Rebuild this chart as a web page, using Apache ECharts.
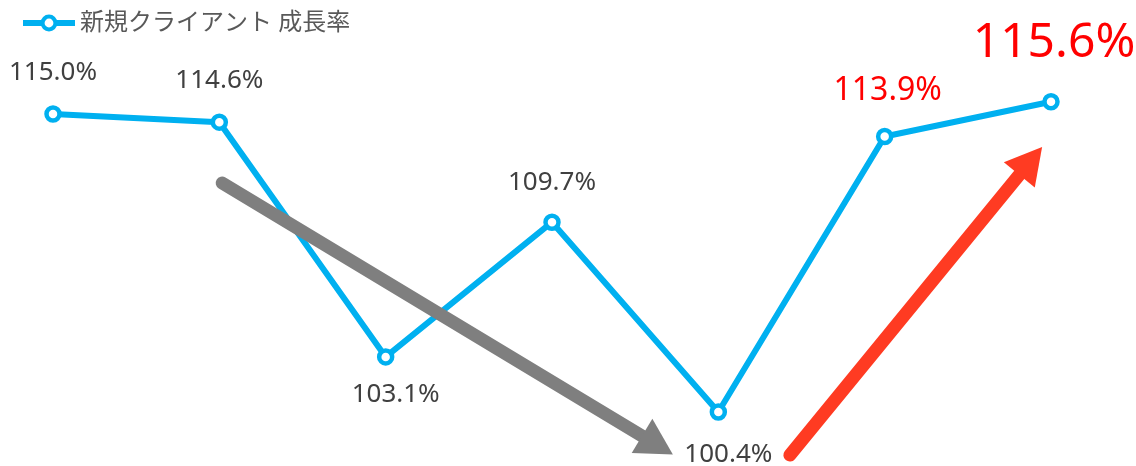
<!DOCTYPE html>
<html><head><meta charset="utf-8">
<script src="https://cdn.jsdelivr.net/npm/echarts@6/dist/echarts.min.js"></script>
<style>html,body{margin:0;padding:0;background:#fff}#c{width:1136px;height:466px}</style>
</head><body><div id="c"></div>
<script>
const categories = ['1','2','3','4','5','6','7'];
const seriesName = '新規クライアント 成長率';
const growth = [115.0, 114.6, 103.1, 109.7, 100.4, 113.9, 115.6];
const labelPos = ['top','top','bottom','top','bottom','top','top'];
// arrows: [startIndex, startValue] -> [endIndex, endValue]
const greyArrow = [[1.017, 111.62], [3.634, 98.77]];
const redArrow = [[4.43, 98.29], [5.878, 112.70]];

const chart = echarts.init(document.getElementById('c'));
const font = '"Noto Sans", "Noto Sans CJK JP", sans-serif';
const labelDist = [20, 20, 16, 18, 21, 21, 26];
const data = growth.map((v, i) => {
  const d = { value: v, label: { position: labelPos[i], distance: labelDist[i] } };
  if (labelPos[i] === 'bottom') d.label.offset = [10, 0];
  if (i === 5) { d.label.color = '#ff0000'; d.label.fontSize = 32; d.label.offset = [3, 0]; }
  if (i === 6) { d.label.color = '#ff0000'; d.label.fontSize = 48; d.label.offset = [3, 0]; }
  return d;
});
function arrow(seg, color) {
  return {
    type: 'line', xAxisIndex: 1, data: seg, silent: true,
    showSymbol: false, symbol: 'none', clip: false,
    lineStyle: { opacity: 0 },
    markLine: {
      silent: true, animation: false,
      symbol: ['none', 'triangle'], symbolSize: [40, 36],
      label: { show: false },
      lineStyle: { color: color, width: 13, type: 'solid', cap: 'round', opacity: 1 },
      itemStyle: { color: color },
      data: [[{ coord: seg[0] }, { coord: seg[1] }]]
    },
    z: 2
  };
}
chart.setOption({
  animation: false,
  textStyle: { fontFamily: font },
  legend: {
    data: [seriesName], left: 15, top: 6, itemWidth: 52, itemHeight: 16, itemGap: 4,
    lineStyle: { width: 6 },
    itemStyle: { borderWidth: 4 },
    textStyle: { fontSize: 24, color: '#595959', fontFamily: font }
  },
  grid: { left: 53, right: 85, top: 93.6, bottom: 5.0 },
  xAxis: [
    { type: 'category', data: categories, boundaryGap: false, show: false },
    { type: 'value', min: 0, max: 6, show: false }
  ],
  yAxis: { type: 'value', min: 98, max: 116, show: false },
  series: [
    {
      name: seriesName, type: 'line', data: data,
      symbol: 'circle', symbolSize: 13,
      lineStyle: { color: '#00b0f0', width: 6 },
      itemStyle: { color: '#ffffff', borderWidth: 4.5, borderColor: '#00b0f0' },
      label: { show: true, fontSize: 26, color: '#404040', fontFamily: font,
        formatter: p => p.value.toFixed(1) + '%' },
      z: 3
    },
    arrow(greyArrow, '#7f7f7f'),
    arrow(redArrow, '#ff3b22')
  ]
});
</script></body></html>
